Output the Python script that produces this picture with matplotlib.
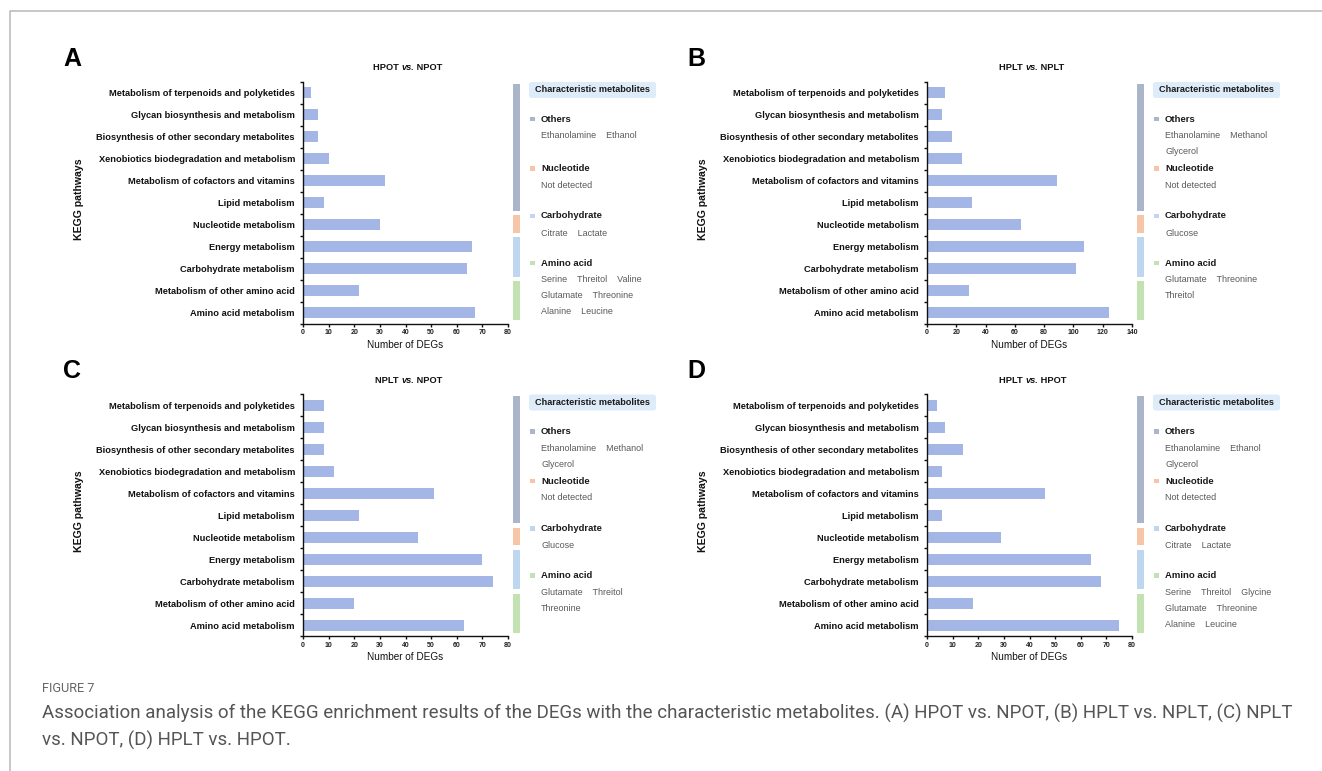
import matplotlib
matplotlib.use("Agg")
import matplotlib.pyplot as plt
import matplotlib.transforms as mtransforms
from matplotlib import font_manager
from matplotlib.patches import Rectangle, FancyBboxPatch
from matplotlib.lines import Line2D
from matplotlib.text import Annotation
from matplotlib.ticker import FixedLocator

# ---------------------------------------------------------------- data
pathways = [
    "Metabolism of terpenoids and polyketides",
    "Glycan biosynthesis and metabolism",
    "Biosynthesis of other secondary metabolites",
    "Xenobiotics biodegradation and metabolism",
    "Metabolism of cofactors and vitamins",
    "Lipid metabolism",
    "Nucleotide metabolism",
    "Energy metabolism",
    "Carbohydrate metabolism",
    "Metabolism of other amino acid",
    "Amino acid metabolism",
]

degs_a = [3, 6, 6, 10, 32, 8, 30, 66, 64, 22, 67]
degs_b = [12, 10, 17, 24, 89, 31, 64, 107, 102, 29, 124]
degs_c = [8, 8, 8, 12, 51, 22, 45, 70, 74, 20, 63]
degs_d = [4, 7, 14, 6, 46, 6, 29, 64, 68, 18, 75]

xmax_a, xmax_b, xmax_c, xmax_d = 80, 140, 80, 80
xstep_a, xstep_b, xstep_c, xstep_d = 10, 20, 10, 10

compare_a = ("HPOT", "NPOT")
compare_b = ("HPLT", "NPLT")
compare_c = ("NPLT", "NPOT")
compare_d = ("HPLT", "HPOT")

# metabolite classes and the first/last pathway each class covers
classes = ["Others", "Nucleotide", "Carbohydrate", "Amino acid"]
class_first = [0, 6, 7, 9]
class_last = [5, 6, 8, 10]

metab_a = [
    [["Ethanolamine", "Ethanol"]],
    [["Not detected"]],
    [["Citrate", "Lactate"]],
    [["Serine", "Threitol", "Valine"], ["Glutamate", "Threonine"], ["Alanine", "Leucine"]],
]
metab_b = [
    [["Ethanolamine", "Methanol"], ["Glycerol"]],
    [["Not detected"]],
    [["Glucose"]],
    [["Glutamate", "Threonine"], ["Threitol"]],
]
metab_c = [
    [["Ethanolamine", "Methanol"], ["Glycerol"]],
    [["Not detected"]],
    [["Glucose"]],
    [["Glutamate", "Threitol"], ["Threonine"]],
]
metab_d = [
    [["Ethanolamine", "Ethanol"], ["Glycerol"]],
    [["Not detected"]],
    [["Citrate", "Lactate"]],
    [["Serine", "Threitol", "Glycine"], ["Glutamate", "Threonine"], ["Alanine", "Leucine"]],
]

caption_head = "FIGURE 7"
caption_lines = [
    "Association analysis of the KEGG enrichment results of the DEGs with the characteristic "
    "metabolites. (A) HPOT vs. NPOT, (B) HPLT vs. NPLT, (C) NPLT",
    "vs. NPOT, (D) HPLT vs. HPOT.",
]

# ---------------------------------------------------------------- style
W, H, DPI = 1322, 771, 100
FONT = "Liberation Sans"
BAR = "#a3b6e6"
CLASS_COLORS = ["#aab5ca", "#f6c4a6", "#bed6f0", "#c4e1b1"]
HEADER_BG = "#deebf8"
MEMBER_COLOR = "#5a5a5a"

installed = {f.name for f in font_manager.fontManager.ttflist}
CAP_FONT = next(n for n in ["Liberation Sans Narrow", "Roboto", "Open Sans", "DejaVu Sans"]
                if n in installed)

plt.rcParams["font.family"] = FONT

fig = plt.figure(figsize=(W / DPI, H / DPI), dpi=DPI)
fig.patch.set_facecolor("white")

# pixel transform: x to the right, y downwards from the top-left corner
PX = mtransforms.Affine2D().scale(1 / DPI, -1 / DPI).translate(0, H / DPI) + fig.dpi_scale_trans

AX_W, AX_H = 205, 241.5


def px_text(x, y, s, **kw):
    return fig.text(x, y, s, transform=PX, **kw)


def draw_panel(letter, left, top, values, xmax, xstep, compare, members):
    ax = fig.add_axes([left / W, 1 - (top + AX_H) / H, AX_W / W, AX_H / H])
    ypos = list(range(len(pathways)))
    ax.barh(ypos, values, height=0.5, color=BAR, zorder=2)
    ax.set_xlim(0, xmax)
    ax.set_ylim(len(pathways) - 0.5, -0.5)
    for side in ("top", "right"):
        ax.spines[side].set_visible(False)
    for side in ("left", "bottom"):
        ax.spines[side].set_linewidth(1.0)
        ax.spines[side].set_color("#111111")

    ax.set_yticks(ypos)
    ax.set_yticklabels(pathways, fontsize=6.7, fontweight="bold", color="#111111")
    ax.yaxis.set_minor_locator(FixedLocator([i - 0.5 for i in range(len(pathways) + 1)]))
    ax.tick_params(axis="y", which="major", length=0, pad=5.8)
    ax.tick_params(axis="y", which="minor", length=2.5, width=1.0, direction="out", color="#111111")

    ax.set_xticks(list(range(0, xmax + 1, xstep)))
    ax.tick_params(axis="x", length=2.5, width=1.0, pad=1.6, labelsize=5, color="#111111")
    for lab in ax.get_xticklabels():
        lab.set_fontweight("bold")
        lab.set_color("#222222")

    right = left + AX_W
    cx = left + AX_W / 2

    # axis titles
    px_text(cx, top + AX_H + 21, "Number of DEGs", ha="center", va="center",
            fontsize=7.2, color="#111111")
    px_text(left - 224, top + AX_H / 2 - 4, "KEGG pathways", ha="center", va="center",
            rotation=90, fontsize=7.6, fontweight="bold", color="#111111")

    # panel letter
    px_text(left - 240, top - 16, letter, ha="left", va="baseline",
            fontsize=18, fontweight="bold", color="#000000")

    # comparison title with italic "vs."
    mid = px_text(cx + 2, top - 11.5, "vs.", ha="center", va="baseline",
                  fontsize=6.7, fontweight="bold", style="italic", color="#111111")
    fig.add_artist(Annotation(compare[0] + " ", xy=(0, 0), xycoords=mid, ha="right",
                              va="bottom", fontsize=6.7, fontweight="bold", color="#111111"))
    fig.add_artist(Annotation(" " + compare[1], xy=(1, 0), xycoords=mid, ha="left",
                              va="bottom", fontsize=6.7, fontweight="bold", color="#111111"))

    # class strips alongside the bars
    strip_tr = mtransforms.blended_transform_factory(fig.transFigure, ax.transData)
    for first, last, color in zip(class_first, class_last, CLASS_COLORS):
        lo, hi = first - 0.43, last + 0.36
        ax.add_patch(Rectangle(((right + 5) / W, lo), 7 / W, hi - lo, transform=strip_tr,
                               facecolor=color, edgecolor="none", clip_on=False))

    # metabolite legend
    box = FancyBboxPatch((right + 22, top + 1), 125, 14,
                         boxstyle="round,pad=1,rounding_size=2.5",
                         transform=PX, facecolor=HEADER_BG, edgecolor="none")
    fig.add_artist(box)
    px_text(right + 84.5, top + 8, "Characteristic metabolites", ha="center", va="center",
            fontsize=6.6, fontweight="bold", color="#1a1a1a")
    head_offsets = [37, 86.5, 134, 181]
    for name, color, rows, hy in zip(classes, CLASS_COLORS, members, head_offsets):
        y = top + hy
        fig.add_artist(Rectangle((right + 22, y - 2.5), 4.5, 4.5, transform=PX,
                                 facecolor=color, edgecolor="none"))
        px_text(right + 33, y, name, ha="left", va="center", fontsize=6.8,
                fontweight="bold", color="#1a1a1a")
        for r, row in enumerate(rows):
            px_text(right + 33, y + 17 + 16 * r, "    ".join(row), ha="left", va="center",
                    fontsize=6.5, color=MEMBER_COLOR)
    return ax


draw_panel("A", 303, 82, degs_a, xmax_a, xstep_a, compare_a, metab_a)
draw_panel("B", 927, 82, degs_b, xmax_b, xstep_b, compare_b, metab_b)
draw_panel("C", 303, 394.5, degs_c, xmax_c, xstep_c, compare_c, metab_c)
draw_panel("D", 927, 394.5, degs_d, xmax_d, xstep_d, compare_d, metab_d)

# frame lines
fig.add_artist(Line2D([10, 10, W], [H, 11, 11], transform=PX, color="#b8b8b8", lw=1.1))

# caption
px_text(42, 688, caption_head, ha="left", va="center", fontsize=9.2,
        family=CAP_FONT, color="#666666")
cap1 = px_text(42, 713, caption_lines[0], ha="left", va="center", fontsize=12.5,
               family=CAP_FONT, color="#555555")
cap2 = px_text(42, 740, caption_lines[1], ha="left", va="center", fontsize=12.5,
               family=CAP_FONT, color="#555555")

# size the caption so the first line spans the text block width
renderer = fig.canvas.get_renderer()
width = cap1.get_window_extent(renderer).width
target = 1263
size = 12.5 * target / width
size = min(size, 13.5)
cap1.set_fontsize(size)
cap2.set_fontsize(size)

fig.savefig("out.png", dpi=DPI, facecolor="white")
